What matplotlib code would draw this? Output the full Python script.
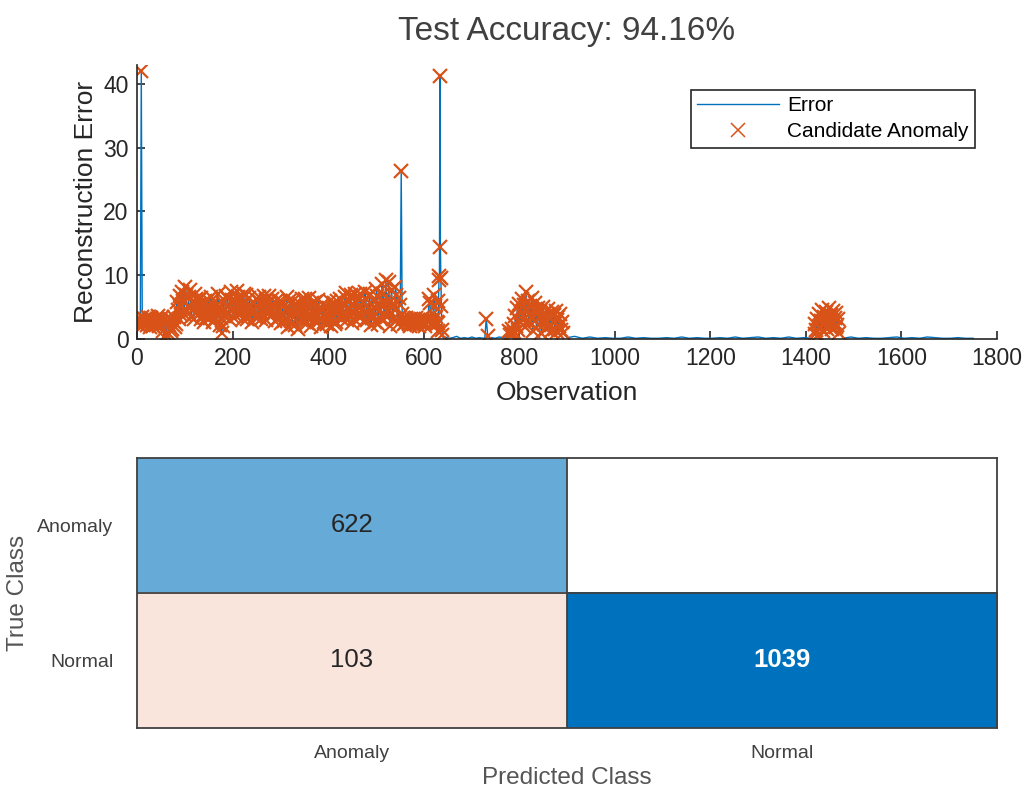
import numpy as np
import matplotlib.pyplot as plt
from matplotlib.colors import LinearSegmentedColormap

plt.rcParams['font.family'] = ['Liberation Sans', 'DejaVu Sans']

# reconstruction error, anomalous stretch (obs 1, 5, 9, ... 625)
obs_a = np.arange(1, 626, 4)
err_a = [2.4, 2.9, 42.0, 2.6, 3.1, 2.2, 2.8, 3.3, 2.1, 2.7, 3.2, 2.4, 2.9, 3.4, 0.3, 2.6,
         0.9, 3.1, 1.6, 3.5, 2.4, 4.6, 6.8, 3.7, 5.9, 8.2, 4.3, 6.6, 3.4, 5.8, 7.1, 4.2,
         6.3, 3.1, 5.2, 2.7, 4.8, 6.1, 3.3, 5.5, 2.9, 4.4, 7.0, 2.2, 1.0, 5.6, 3.6, 6.4,
         4.1, 7.3, 3.5, 5.9, 7.5, 4.0, 6.2, 3.2, 5.4, 6.9, 3.8, 5.0, 2.6, 4.7, 6.3, 3.4,
         5.8, 4.1, 6.7, 3.0, 5.5, 6.8, 3.6, 5.2, 2.8, 6.1, 4.4, 2.5, 5.7, 3.2, 6.5, 1.9,
         4.6, 2.4, 5.3, 3.7, 1.6, 4.9, 6.2, 2.9, 5.1, 3.3, 6.4, 2.1, 4.5, 5.8, 2.6, 4.2,
         1.8, 5.4, 3.5, 2.3, 4.8, 2.0, 3.9, 5.6, 2.7, 4.6, 6.3, 3.1, 5.2, 7.2, 3.8, 6.0,
         2.5, 5.1, 7.0, 4.3, 6.5, 3.4, 5.7, 7.4, 2.9, 4.9, 2.2, 6.1, 3.6, 7.8, 2.4, 5.5,
         8.6, 3.9, 9.2, 4.7, 2.1, 7.6, 5.2, 8.1, 3.0, 6.4, 26.4, 3.3, 2.5, 2.9, 2.3, 3.1,
         2.6, 2.8, 2.2, 3.0, 2.5, 2.9, 2.4, 3.2, 2.6, 5.7, 2.3, 6.9, 3.4]

# same stretch, in-between observations (obs 3, 7, 11, ... 627)
obs_a2 = np.arange(3, 628, 4)
err_a2 = [2.9, 2.1, 3.4, 2.3, 2.7, 3.5, 1.9, 2.5, 3.0, 2.2, 3.6, 2.0, 2.6, 1.2, 2.9, 0.5,
          2.2, 1.3, 2.8, 1.9, 5.8, 3.2, 5.2, 7.4, 3.9, 6.9, 5.1, 7.6, 4.6, 3.1, 6.2, 5.3,
          4.0, 6.4, 3.8, 5.9, 3.5, 4.5, 6.6, 2.6, 5.0, 3.7, 4.9, 3.3, 2.0, 4.3, 6.8, 5.2,
          3.0, 6.1, 4.7, 3.6, 6.6, 5.3, 4.2, 7.0, 4.5, 3.1, 6.4, 4.0, 5.6, 3.5, 5.1, 6.5,
          3.2, 5.3, 4.4, 6.1, 3.9, 4.8, 6.3, 4.0, 5.0, 3.1, 6.0, 4.1, 2.8, 4.7, 3.0, 5.9,
          3.8, 6.0, 2.2, 4.4, 5.6, 3.0, 4.1, 6.3, 2.5, 4.7, 3.9, 5.6, 2.9, 4.0, 6.1, 3.0,
          4.5, 2.6, 5.0, 3.9, 5.9, 3.2, 4.9, 2.4, 6.0, 3.5, 5.0, 4.1, 6.6, 3.0, 4.8, 6.9,
          4.0, 3.2, 5.8, 3.6, 7.1, 4.6, 2.8, 6.2, 4.0, 7.0, 3.3, 5.0, 2.6, 6.8, 4.3, 3.1,
          7.0, 5.8, 3.4, 8.9, 6.0, 3.1, 4.6, 6.9, 2.4, 5.3, 3.9, 2.4, 3.3, 2.7, 2.1, 3.0,
          2.4, 3.3, 2.7, 2.1, 3.2, 2.6, 2.0, 2.9, 6.3, 3.0, 2.5, 5.2, 2.7]

# second spike
obs_b = np.arange(629, 643)
err_b = [2.5, 1.2, 6.0, 9.2, 9.8, 41.3, 14.4, 9.6, 5.1, 1.4, 0.6, 0.3, 0.2, 0.1]

obs_c = np.arange(645, 726, 8)
err_c = [0.3, 0.1, 0.2, 0.4, 0.1, 0.2, 0.1, 0.3, 0.1, 0.2, 0.1]

obs_d = np.array([728, 731, 734, 737])
err_d = [0.2, 3.2, 0.5, 0.1]

obs_e = np.arange(742, 775, 8)
err_e = [0.2, 0.1, 0.3, 0.2, 0.4]

obs_f = np.arange(778, 893, 2)
err_f = [1.2, 0.6, 0.9, 1.6, 0.8, 2.4, 1.1, 3.6, 2.0, 4.8, 1.4, 5.5, 2.7, 4.1, 6.2, 3.0,
         5.3, 1.9, 7.4, 4.4, 6.0, 2.5, 5.1, 3.4, 6.4, 1.3, 4.6, 2.8, 5.6, 1.7, 3.9, 4.9,
         2.2, 4.3, 1.0, 3.6, 5.0, 2.4, 4.1, 1.5, 3.7, 4.7, 2.0, 3.3, 1.2, 4.2, 2.6, 3.8,
         1.6, 4.4, 2.9, 1.1, 3.5, 2.1, 3.9, 1.4, 2.7, 0.9]

obs_g = np.arange(900, 1413, 16)
err_g = [0.2, 0.4, 0.1, 0.3, 0.1, 0.2, 0.1, 0.1, 0.3, 0.1, 0.2, 0.1, 0.1, 0.2, 0.1, 0.3,
         0.1, 0.2, 0.1, 0.1, 0.2, 0.1, 0.3, 0.1, 0.2, 0.3, 0.1, 0.2, 0.1, 0.3, 0.1, 0.2,
         0.1]

obs_h = np.arange(1418, 1471, 2)
err_h = [0.8, 2.3, 1.4, 3.1, 0.6, 3.9, 1.9, 2.8, 4.6, 1.2, 3.5, 2.4, 4.2, 1.6, 3.0, 4.9,
         2.1, 3.7, 1.5, 4.4, 2.6, 3.3, 1.8, 4.0, 2.2, 3.1, 1.0]

obs_k = np.arange(1478, 1765, 16)
err_k = [0.1, 0.3, 0.1, 0.2, 0.1, 0.1, 0.2, 0.3, 0.1, 0.2, 0.1, 0.3, 0.2, 0.1, 0.1, 0.2,
         0.1, 0.1]

# confusion matrix (rows: true, cols: predicted)
classes = ['Anomaly', 'Normal']
cm = np.array([[622, 0],
               [103, 1039]])
accuracy = 100 * np.trace(cm) / cm.sum()

obs = np.concatenate([obs_a, obs_a2, obs_b, obs_c, obs_d, obs_e, obs_f, obs_g, obs_h, obs_k])
err = np.concatenate([err_a, err_a2, err_b, err_c, err_d, err_e, err_f, err_g, err_h, err_k])
order = np.argsort(obs)
obs, err = obs[order], err[order]

# flagged points
anom_x = np.concatenate([obs_a, obs_a2, obs_b[:11], obs_d[1:3], obs_f, obs_h])
anom_y = np.concatenate([err_a, err_a2, err_b[:11], err_d[1:3], err_f, err_h])

fig = plt.figure(figsize=(10.3, 7.9), dpi=100)

dark = '#262626'

# ---- reconstruction error ----
ax1 = fig.add_axes([0.133, 0.571, 0.835, 0.347])
ax1.plot(obs, err, color='#0072BD', lw=1.0, label='Error')
ax1.plot(anom_x, anom_y, 'x', color='#D95319', ms=9.5, mew=1.6, label='Candidate Anomaly')
ax1.set_xlim(0, 1800)
ax1.set_ylim(0, 43)
ax1.set_xticks(np.arange(0, 1801, 200))
ax1.set_yticks([0, 10, 20, 30, 40])
ax1.spines['top'].set_visible(False)
ax1.spines['right'].set_visible(False)
for s in ['left', 'bottom']:
    ax1.spines[s].set_color(dark)
    ax1.spines[s].set_linewidth(1.2)
ax1.tick_params(direction='in', length=6, width=1.2, colors=dark, labelsize=16.5, pad=6)
ax1.set_xlabel('Observation', fontsize=19, color=dark, labelpad=8)
ax1.set_ylabel('Reconstruction Error', fontsize=19, color=dark, labelpad=4)
ax1.set_title('Test Accuracy: %.2f%%' % accuracy, fontsize=24, color='#404040', pad=18)
leg = ax1.legend(loc='upper right', bbox_to_anchor=(0.974, 0.909), fontsize=15,
                 fancybox=False, framealpha=1, edgecolor=dark, handlelength=3.9,
                 borderpad=0.3, labelspacing=0.35, handletextpad=0.4, borderaxespad=0)
leg.get_frame().set_linewidth(1.2)
leg.legend_handles[1].set_markeredgewidth(1.1)

# ---- confusion chart ----
ax2 = fig.add_axes([0.133, 0.0785, 0.835, 0.342])
blues = LinearSegmentedColormap.from_list('diag', ['#FFFFFF', '#0072BD'])
reds = LinearSegmentedColormap.from_list('offdiag', ['#FFFFFF', '#D95319'], gamma=0.82)
frac = cm / cm.max()
rgb = np.zeros((2, 2, 4))
for i in range(2):
    for j in range(2):
        rgb[i, j] = blues(frac[i, j]) if i == j else reds(frac[i, j])
        if cm[i, j] > 0:
            light = frac[i, j] > 0.8
            ax2.text(j, i, str(cm[i, j]), ha='center', va='center', fontsize=18.5,
                     color='white' if light else '#262626',
                     fontweight='bold' if light else 'normal')
ax2.imshow(rgb, extent=(-0.5, 1.5, 1.5, -0.5), aspect='auto')
ax2.axhline(0.5, color='#404040', lw=1.3)
ax2.axvline(0.5, color='#404040', lw=1.3)
for s in ax2.spines.values():
    s.set_color('#404040')
    s.set_linewidth(1.3)
ax2.set_xticks([0, 1])
ax2.set_xticklabels(classes)
ax2.set_yticks([0, 1])
ax2.set_yticklabels(classes)
ax2.tick_params(length=0, labelsize=14, colors='#404040')
ax2.tick_params(axis='y', pad=17)
ax2.tick_params(axis='x', pad=12)
ax2.set_xlabel('Predicted Class', fontsize=17.5, color='#555555', labelpad=4)
ax2.set_ylabel('True Class', fontsize=17.5, color='#555555', labelpad=6)

fig.savefig('out.png', dpi=100)
